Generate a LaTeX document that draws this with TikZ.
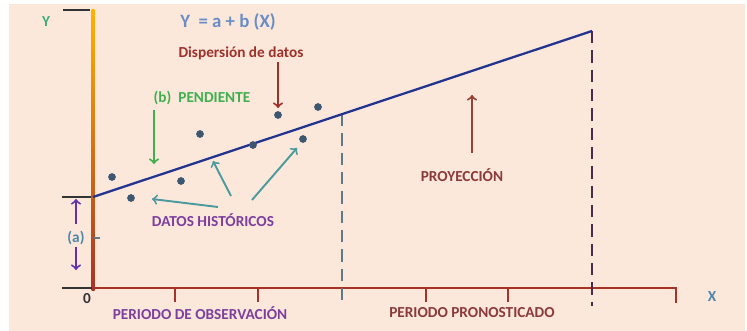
\documentclass[tikz,border=0pt]{standalone}
\usepackage{fontspec}
\setmainfont{Carlito}
\usepackage{xcolor}
\definecolor{fondo}{HTML}{FCE8DB}
\definecolor{ejex}{HTML}{A93226}
\definecolor{recta}{HTML}{22348F}
\definecolor{punto}{HTML}{3E5770}
\definecolor{ecuacion}{HTML}{6A8CC7}
\definecolor{rojo}{HTML}{A0302A}
\definecolor{verde}{HTML}{3DB04F}
\definecolor{morado}{HTML}{7D3F9E}
\definecolor{turquesa}{HTML}{4A9A9E}
\definecolor{azul}{HTML}{4F86A8}
\definecolor{marron}{HTML}{8B3A3A}
\definecolor{gris}{HTML}{5E7A8A}
\definecolor{ciruela}{HTML}{4A2A4A}
\tikzset{
  lbl/.style={font=\bfseries\fontsize{8.7}{10}\selectfont, inner sep=1pt},
  dato/.style={circle, fill=punto, inner sep=0pt, minimum size=4.4pt},
  flecha/.style={->, line width=1.1pt},
  marca/.style={line width=0.9pt, black!80}
}

\begin{document}
\begin{tikzpicture}[x=0.02cm, y=-0.02cm]
\fill[fondo] (9,4) rectangle (745,331);
\useasboundingbox (0,0) rectangle (747,331);
\shade[top color=orange!60!yellow, bottom color=ejex] (91.5,10) rectangle (94.5,290);
\draw[marca] (63,10) -- (90,10);
\draw[marca] (62,197) -- (91,197);
\draw[marca] (62,288) -- (92,288);
\draw[gris, line width=0.6pt] (94,238) -- (100,238);

\coordinate (o) at (93,288);
\coordinate (xfin) at (676,288);
\draw[ejex, line width=1.6pt] (o) -- (xfin) -- (676,303);
\foreach \t in {175,258,426,508}
  \draw[ejex, line width=1.6pt] (\t,288) -- (\t,302);

\coordinate (a0) at (93,197);
\coordinate (f1) at (342,114);
\coordinate (f2) at (592,31);
\draw[gris, line width=1.2pt, dash pattern=on 7pt off 4pt] (f1) -- (342,303);
\draw[ciruela, line width=1.2pt, dash pattern=on 7pt off 4pt] (f2) -- (592,306);
\draw[recta, line width=1.3pt] (a0) -- (f2);

\node at (200,134) [dato] (p1) {};
\node at (278,115) [dato] (p2) {};
\node at (318,107) [dato] (p3) {};
\node at (253,145) [dato] (p4) {};
\node at (303,139) [dato] (p5) {};
\node at (112,177) [dato] (p6) {};
\node at (181,181) [dato] (p7) {};
\node at (131,198) [dato] (p8) {};

\node at (46,22) [lbl, text=turquesa!80!green] (ylab) {Y};
\node at (228,22) [lbl, text=ecuacion, font=\bfseries\fontsize{10.7}{12}\selectfont] (ecu) {Y\ \ = a + b (X)};
\node at (241,53) [lbl, text=rojo] (disp) {Dispersión de datos};
\node at (202,98) [lbl, text=verde] (pend) {(b)\ \ PENDIENTE};
\node at (213,220) [lbl, text=morado] (hist) {DATOS HISTÓRICOS};
\node at (462,175) [lbl, text=marron] (proy) {PROYECCIÓN};
\node at (76,238) [lbl, text=azul] (a) {(a)};
\node at (87,299) [lbl, text=black!80] (cero) {0};
\node at (712,297) [lbl, text=azul] (xlab) {X};
\node at (200,313) [lbl, text=morado] (obs) {PERIODO DE OBSERVACIÓN};
\node at (472,313) [lbl, text=marron] (pron) {PERIODO PRONOSTICADO};

\coordinate (d1) at (278,62);
\coordinate (d2) at (278,108);
\draw[flecha, rojo] (d1) -- (d2);
\coordinate (b1) at (154,110);
\coordinate (b2) at (154,164);
\draw[flecha, verde] (b1) -- (b2);
\coordinate (y1) at (472,153);
\coordinate (y2) at (472,95);
\draw[flecha, marron!90!orange] (y1) -- (y2);
\coordinate (a1) at (76,199);
\coordinate (a2) at (76,270);
\draw[flecha, morado!80!blue] ([yshift=3pt]a.north) -- (a1);
\draw[flecha, morado!80!blue] (a.south) -- (a2);
\coordinate (h1) at (218,207);
\coordinate (h2) at (231,196);
\coordinate (h3) at (252,200);
\draw[flecha, turquesa] (h1) -- (152,199);
\draw[flecha, turquesa] (h2) -- (213,161);
\draw[flecha, turquesa] (h3) -- (297,148);
\end{tikzpicture}
\end{document}
